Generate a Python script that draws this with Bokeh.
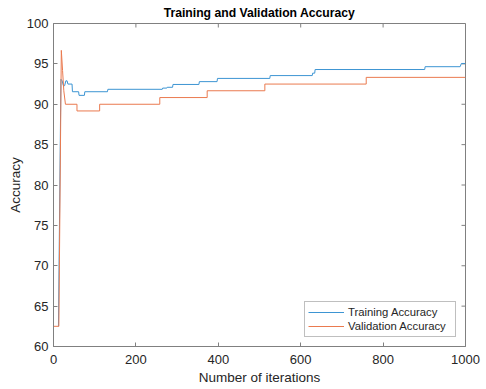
import math
from bokeh.plotting import figure
from bokeh.models import Range1d, Legend, LegendItem, FixedTicker
from bokeh.embed import file_html
from bokeh.resources import INLINE

# Training accuracy (iteration, value)
train_iter = [12, 18, 21, 24, 27, 30, 33, 35, 45, 46, 61, 62, 75, 76, 131, 132, 264, 265, 275, 276,
              289, 290, 353, 354, 397, 398, 525, 526, 628, 629, 634, 635, 901, 902, 987, 990, 1000]
train_acc = [62.5, 93.1, 92.9, 92.3, 92.3, 92.9, 92.9, 92.5, 92.5, 91.55, 91.55, 91.1, 91.1, 91.55, 91.55,
             91.85, 91.85, 92.0, 92.0, 92.1, 92.1, 92.45, 92.45, 92.8, 92.8, 93.2, 93.2, 93.55, 93.55,
             93.85, 93.85, 94.3, 94.3, 94.65, 94.65, 95.05, 95.05]

# Validation accuracy (iteration, value)
val_iter = [0, 13, 19, 22, 25, 29, 57, 57, 112, 112, 258, 258, 373, 373, 513, 513, 759, 759, 1000]
val_acc = [62.5, 62.5, 96.67, 94.17, 91.67, 90.0, 90.0, 89.17, 89.17, 90.0, 90.0, 90.83, 90.83,
           91.67, 91.67, 92.5, 92.5, 93.33, 93.33]

x_ticks = [0, 200, 400, 600, 800, 1000]
y_ticks = [60, 65, 70, 75, 80, 85, 90, 95, 100]

FONT = "Liberation Sans"
TXT = "#262626"
AX = "#808080"

p = figure(width=486, height=389, output_backend="svg", toolbar_location=None,
           x_range=Range1d(0, 1000), y_range=Range1d(60, 100),
           min_border_left=53, min_border_right=21, min_border_top=23, min_border_bottom=43,
           x_axis_label="Number of iterations", y_axis_label="Accuracy",
           title="Training and Validation Accuracy", border_fill_color="white")

p.title.align = "center"
p.title.text_font = FONT
p.title.text_font_size = "12.2px"
p.title.text_font_style = "bold"
p.title.text_color = "#000000"
p.title.standoff = 7

p.grid.visible = False
p.outline_line_color = AX
p.outline_line_width = 1

for ax in p.xaxis + p.yaxis:
    ax.major_label_text_font = FONT
    ax.major_label_text_font_size = "13px"
    ax.major_label_text_color = TXT
    ax.axis_label_text_font = FONT
    ax.axis_label_text_font_size = "13.5px"
    ax.axis_label_text_font_style = "normal"
    ax.axis_label_text_color = TXT
    ax.axis_line_color = AX
    ax.major_tick_line_color = AX
    ax.major_tick_in = 4
    ax.major_tick_out = 0
    ax.minor_tick_line_color = None
    ax.major_label_standoff = 5
    ax.axis_label_standoff = 3

p.xaxis.major_label_standoff = 8
p.yaxis.axis_label_standoff = 1
p.xaxis.ticker = FixedTicker(ticks=x_ticks)
p.yaxis.ticker = FixedTicker(ticks=y_ticks)

p.ray(x=x_ticks, y=[100] * len(x_ticks), length=4, length_units="screen",
      angle=-math.pi / 2, line_color=AX, line_width=1)
p.ray(x=[1000] * len(y_ticks), y=y_ticks, length=4, length_units="screen",
      angle=math.pi, line_color=AX, line_width=1)

r1 = p.line(train_iter, train_acc, line_color="#3d95d3", line_width=1.0)
r2 = p.line(val_iter, val_acc, line_color="#ea7a4f", line_width=1.0)

legend = Legend(items=[LegendItem(label="Training Accuracy", renderers=[r1]),
                       LegendItem(label="Validation Accuracy", renderers=[r2])],
                location="bottom_right")
legend.label_text_font = FONT
legend.label_text_font_size = "11.3px"
legend.label_text_color = TXT
legend.border_line_color = AX
legend.border_line_width = 1
legend.background_fill_color = "white"
legend.background_fill_alpha = 1
legend.glyph_width = 36
legend.glyph_height = 14
legend.label_height = 14
legend.label_width = 104
legend.spacing = 0
legend.padding = 3
legend.margin = 9
legend.label_standoff = 4
p.add_layout(legend)

open("out.html", "w").write(file_html(p, INLINE))
